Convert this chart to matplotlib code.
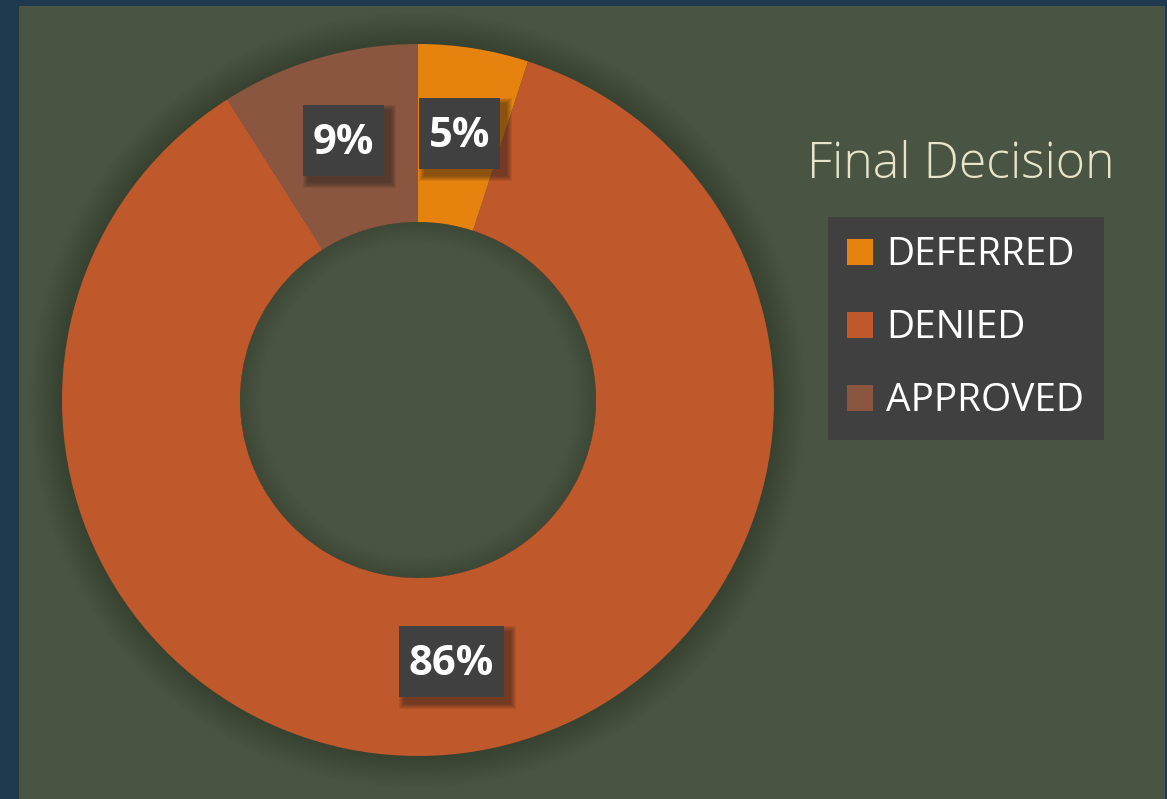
import numpy as np
import matplotlib
matplotlib.use("Agg")
from matplotlib import pyplot as plt
from matplotlib import patches as patches

# Data
labels = ['DEFERRED', 'DENIED', 'APPROVED']
shares = [5, 86, 9]
colors = ['#e6830f', '#bf582b', '#8a5640']
title = 'Final Decision'

W, H = 1167, 799
fig = plt.figure(figsize=(W / 100, H / 100), dpi=100)
fig.patch.set_facecolor('#1f3a4f')

# green-gray panel
panel = fig.add_axes([19 / W, 0, (1165 - 19) / W, 1 - 6 / H])
panel.set_facecolor('#4a5442')
panel.set_xticks([])
panel.set_yticks([])
for s in panel.spines.values():
    s.set_visible(False)

# donut axes: centre (418,400), radius 356 px
R = 356
cx, cy = 418, 400
ax = fig.add_axes([(cx - R) / W, (H - cy - R) / H, 2 * R / W, 2 * R / H])
ax.set_facecolor('none')
ax.axis('off')

# soft shadow around the ring and inside the hole
for k in range(18):
    ax.add_patch(patches.Wedge((0, 0), 1.0 + 0.005 * (k + 1), 0, 360,
                               width=0.005 * (k + 1) + 0.01, facecolor='#2a2a2a',
                               alpha=0.022, linewidth=0, clip_on=False))
for k in range(12):
    ax.add_patch(patches.Wedge((0, 0), 0.5, 0, 360, width=0.005 * (k + 1),
                               facecolor='#2a2a2a', alpha=0.025, linewidth=0,
                               clip_on=False, zorder=2))

wedges, _ = ax.pie(shares, colors=colors, startangle=90, counterclock=False,
                   radius=1.0, wedgeprops=dict(width=0.5, linewidth=0))
ax.set_xlim(-1, 1)
ax.set_ylim(-1, 1)
ax.set_aspect('auto')

# percentage labels
cum = np.cumsum([0] + shares[:-1])
texts = []
for v, c0 in zip(shares, cum):
    mid = (c0 + v / 2) / 100 * 2 * np.pi
    x = 0.75 * np.sin(mid)
    y = 0.75 * np.cos(mid)
    t = ax.text(x, y, f'{v}%', ha='center', va='center', fontsize=30,
                fontweight='bold', family='Open Sans', color='white', zorder=6)
    texts.append(t)

# title
fig.text(961 / W, 1 - 178 / H, title, ha='center', va='baseline', fontsize=36,
         family='Open Sans', fontweight='light', color='#e8e4c9')

# legend
handles = [patches.Patch(facecolor=c, edgecolor='none') for c in colors]
leg = fig.legend(handles, labels, loc='upper left',
                 bbox_to_anchor=(828 / W, 1 - 217 / H), frameon=True,
                 handlelength=0.65, handleheight=0.65,
                 handletextpad=0.35, labelspacing=0.9, borderpad=0.5,
                 borderaxespad=0, fancybox=False,
                 prop=dict(family='Open Sans', size=28))
leg.get_frame().set_facecolor('#404040')
leg.get_frame().set_edgecolor('none')
leg.get_frame().set_alpha(1)
for t in leg.get_texts():
    t.set_color('white')

# dark boxes with blurred drop shadow behind each label
fig.canvas.draw()
for t in texts:
    bb = t.get_window_extent()
    mx, my = (bb.x0 + bb.x1) / 2, (bb.y0 + bb.y1) / 2 + 3
    bw, bh = bb.width + 20, 71
    x0, y0 = mx - bw / 2, my - bh / 2
    for k in range(6):
        g = 6 - k
        ax.add_patch(patches.Rectangle((x0 + 6 - g, y0 - 6 - g),
                                       bw + 2 * g, bh + 2 * g,
                                       transform=None, facecolor='#1a1a1a',
                                       alpha=0.09, linewidth=0, clip_on=False,
                                       zorder=4))
    ax.add_patch(patches.Rectangle((x0, y0), bw, bh, transform=None,
                                   facecolor='#404040', linewidth=0,
                                   clip_on=False, zorder=5))

fig.savefig('out.png', dpi=100, facecolor=fig.get_facecolor())
